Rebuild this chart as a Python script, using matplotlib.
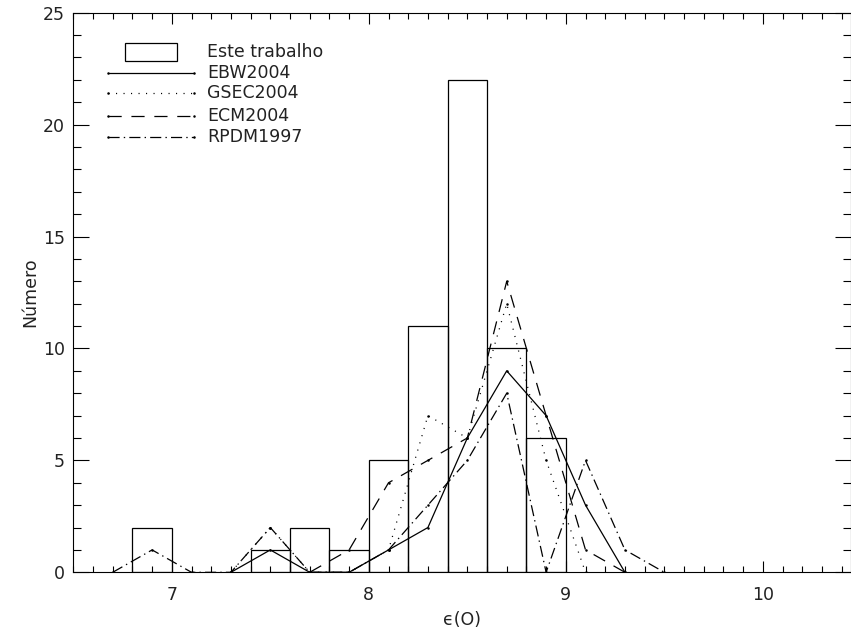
import matplotlib
matplotlib.use("Agg")
import matplotlib.pyplot as plt
from matplotlib.ticker import MultipleLocator

# histogram of this work: left bin edges (width 0.2) and counts
bin_left = [6.8, 7.4, 7.6, 7.8, 8.0, 8.2, 8.4, 8.6, 8.8]
counts = [2, 1, 2, 1, 5, 11, 22, 10, 6]
bin_width = 0.2

# comparison distributions, at bin centres
x_ebw = [7.3, 7.5, 7.7, 7.9, 8.1, 8.3, 8.5, 8.7, 8.9, 9.1, 9.3]
y_ebw = [0, 1, 0, 0, 1, 2, 6, 9, 7, 3, 0]

x_gsec = [7.3, 7.5, 7.7, 7.9, 8.1, 8.3, 8.5, 8.7, 8.9, 9.1]
y_gsec = [0, 2, 0, 0, 1, 7, 6, 12, 5, 0]

x_ecm = [7.7, 7.9, 8.1, 8.3, 8.5, 8.7, 8.9, 9.1, 9.3]
y_ecm = [0, 1, 4, 5, 6, 13, 7, 1, 0]

x_rpdm = [6.7, 6.9, 7.1, 7.3, 7.5, 7.7, 7.9, 8.1, 8.3, 8.5, 8.7, 8.9, 9.1, 9.3, 9.5]
y_rpdm = [0, 1, 0, 0, 2, 0, 0, 1, 3, 5, 8, 0, 5, 1, 0]

labels = ["Este trabalho", "EBW2004", "GSEC2004", "ECM2004", "RPDM1997"]

styles = [
    (0, ()),
    (0, (0.8, 4.6)),
    (0, (9.5, 7.0)),
    (0, (8.0, 3.0, 1.0, 3.0)),
]

plt.rcParams["font.family"] = "DejaVu Sans"
plt.rcParams["font.size"] = 12.5
plt.rcParams["lines.scale_dashes"] = False

fig = plt.figure(figsize=(8.51, 6.29), dpi=100)
ax = fig.add_axes([73.3 / 851, 1 - 572.3 / 629, (850.5 - 73.3) / 851, (572.3 - 12.7) / 629])

ax.bar(bin_left, counts, width=bin_width, align="edge", fill=False,
       edgecolor="black", linewidth=0.9)

series = [(x_ebw, y_ebw), (x_gsec, y_gsec), (x_ecm, y_ecm), (x_rpdm, y_rpdm)]
for (xs, ys), ls in zip(series, styles):
    ax.plot(xs, ys, color="black", linewidth=0.9, linestyle=ls,
            marker="o", markersize=1.8, markeredgewidth=0)

ax.set_xlim(6.5, 10.445)
ax.set_ylim(0, 25)

ax.xaxis.set_major_locator(MultipleLocator(1))
ax.xaxis.set_minor_locator(MultipleLocator(0.1))
ax.yaxis.set_major_locator(MultipleLocator(5))
ax.yaxis.set_minor_locator(MultipleLocator(1))

ax.tick_params(axis="both", which="both", direction="in", top=True, right=True,
               width=0.8, colors="black")
ax.tick_params(axis="x", which="major", length=8, pad=10)
ax.tick_params(axis="x", which="minor", length=4)
ax.tick_params(axis="y", which="major", length=11.2, pad=6)
ax.tick_params(axis="y", which="minor", length=5.6)
for lab in ax.get_xticklabels() + ax.get_yticklabels():
    lab.set_color("#222222")

for sp in ax.spines.values():
    sp.set_linewidth(0.8)

ax.set_xlabel("\u03f5(O)", color="#222222")
ax.set_ylabel("Número", color="#222222")
ax.xaxis.set_label_coords(0.5, -0.085)
ax.yaxis.set_label_coords(-0.056, 0.5)
ax.xaxis.label.set_va("center")
ax.yaxis.label.set_va("center")

# legend, drawn by hand in axes coordinates
tx = 0.1725
ax.add_patch(plt.Rectangle((0.0665, 0.9131), 0.0673, 0.0329, transform=ax.transAxes,
                           fill=False, edgecolor="black", linewidth=0.9))
ax.text(tx, 0.9303, labels[0], transform=ax.transAxes, va="center", ha="left",
        color="#222222")
leg_y = [0.8928, 0.857, 0.816, 0.7773]
for ly, ls, lab in zip(leg_y, styles, labels[1:]):
    ax.plot([0.045, 0.155], [ly, ly], transform=ax.transAxes, color="black",
            linewidth=0.9, linestyle=ls, marker="o", markersize=1.8,
            markeredgewidth=0, clip_on=False)
    ax.text(tx, ly, lab, transform=ax.transAxes, va="center", ha="left",
            color="#222222")

plt.savefig("out.png", dpi=100)
